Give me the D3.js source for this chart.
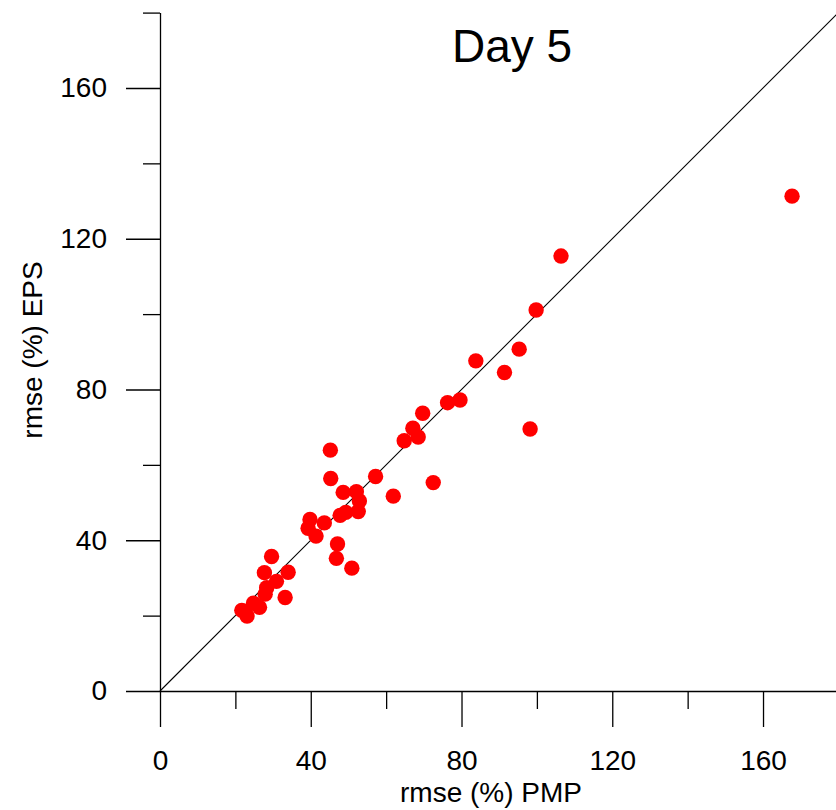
<!DOCTYPE html>
<html>
<head>
<meta charset="utf-8">
<script src="https://cdn.jsdelivr.net/npm/d3@7"></script>
<style>
  body { margin: 0; background: #fff; }
  svg { font-family: "Liberation Sans", Arial, sans-serif; }
</style>
</head>
<body>
<svg width="836" height="810"></svg>
<script>
// rmse (%) of PMP vs EPS, day 5
const pmp = [29.6, 27.7, 34.0, 30.9, 28.3, 27.9, 33.2, 24.8, 26.4, 21.7, 23.1,
  39.8, 39.3, 41.4, 43.6, 47.8, 49.3, 52.6, 52.9, 47.1, 46.8, 50.9,
  48.6, 52.1, 61.9, 45.2, 45.3, 57.2, 72.5, 64.8, 68.5, 67.1, 69.7,
  76.3, 79.6, 98.2, 83.8, 91.4, 95.3, 99.8, 106.4, 167.7];
const eps = [35.7, 31.4, 31.5, 29.1, 27.4, 25.7, 24.8, 23.3, 22.2, 21.4, 19.9,
  45.5, 43.2, 41.1, 44.6, 46.6, 47.4, 47.6, 50.4, 39.0, 35.2, 32.6,
  52.7, 52.9, 51.7, 63.9, 56.4, 56.9, 55.3, 66.4, 67.4, 69.7, 73.7,
  76.5, 77.2, 69.5, 87.6, 84.5, 90.7, 101.1, 115.4, 131.3];
const majorTicks = [0, 40, 80, 120, 160];
const minorTicks = [20, 60, 100, 140, 180];

const svg = d3.select("svg");

const x = d3.scaleLinear().domain([0, 180]).range([160, 838.4]);
const y = d3.scaleLinear().domain([0, 180]).range([691, 12.6]);

// 1:1 line
svg.append("line")
    .attr("x1", x(0)).attr("y1", y(0))
    .attr("x2", x(180)).attr("y2", y(180))
    .attr("stroke", "#000")
    .attr("stroke-width", 1.1);

// axes
svg.append("g")
    .attr("transform", `translate(0,${y(0)})`)
    .call(d3.axisBottom(x).tickValues(majorTicks).tickSize(36).tickSizeOuter(0).tickPadding(23));
svg.append("g")
    .attr("transform", `translate(0,${y(0)})`)
    .call(d3.axisBottom(x).tickValues(minorTicks).tickSize(18).tickFormat(""))
    .call(g => g.select(".domain").remove());

svg.append("g")
    .attr("transform", `translate(${x(0)},0)`)
    .call(d3.axisLeft(y).tickValues(majorTicks).tickSize(34).tickSizeOuter(0).tickPadding(19));
svg.append("g")
    .attr("transform", `translate(${x(0)},0)`)
    .call(d3.axisLeft(y).tickValues(minorTicks).tickSize(17).tickFormat(""))
    .call(g => g.select(".domain").remove());

svg.selectAll(".tick line, .domain")
    .attr("stroke", "#000")
    .attr("stroke-width", 1.3);
svg.selectAll(".tick text")
    .attr("fill", "#000")
    .attr("font-family", "Liberation Sans, Arial, sans-serif")
    .attr("font-size", 28);

// points
const pts = pmp.map((v, i) => ({ x: v, y: eps[i] }));
svg.append("g")
    .selectAll("circle")
    .data(pts)
    .enter()
    .append("circle")
    .attr("cx", d => x(d.x))
    .attr("cy", d => y(d.y))
    .attr("r", 7.7)
    .attr("fill", "#ff0000");

// titles
svg.append("text")
    .attr("x", 512).attr("y", 62)
    .attr("text-anchor", "middle")
    .attr("font-size", 46)
    .text("Day 5");

svg.append("text")
    .attr("x", 491).attr("y", 802)
    .attr("text-anchor", "middle")
    .attr("font-size", 28)
    .text("rmse (%) PMP");

svg.append("text")
    .attr("transform", "translate(42,350) rotate(-90)")
    .attr("text-anchor", "middle")
    .attr("font-size", 28)
    .text("rmse (%) EPS");
</script>
</body>
</html>
